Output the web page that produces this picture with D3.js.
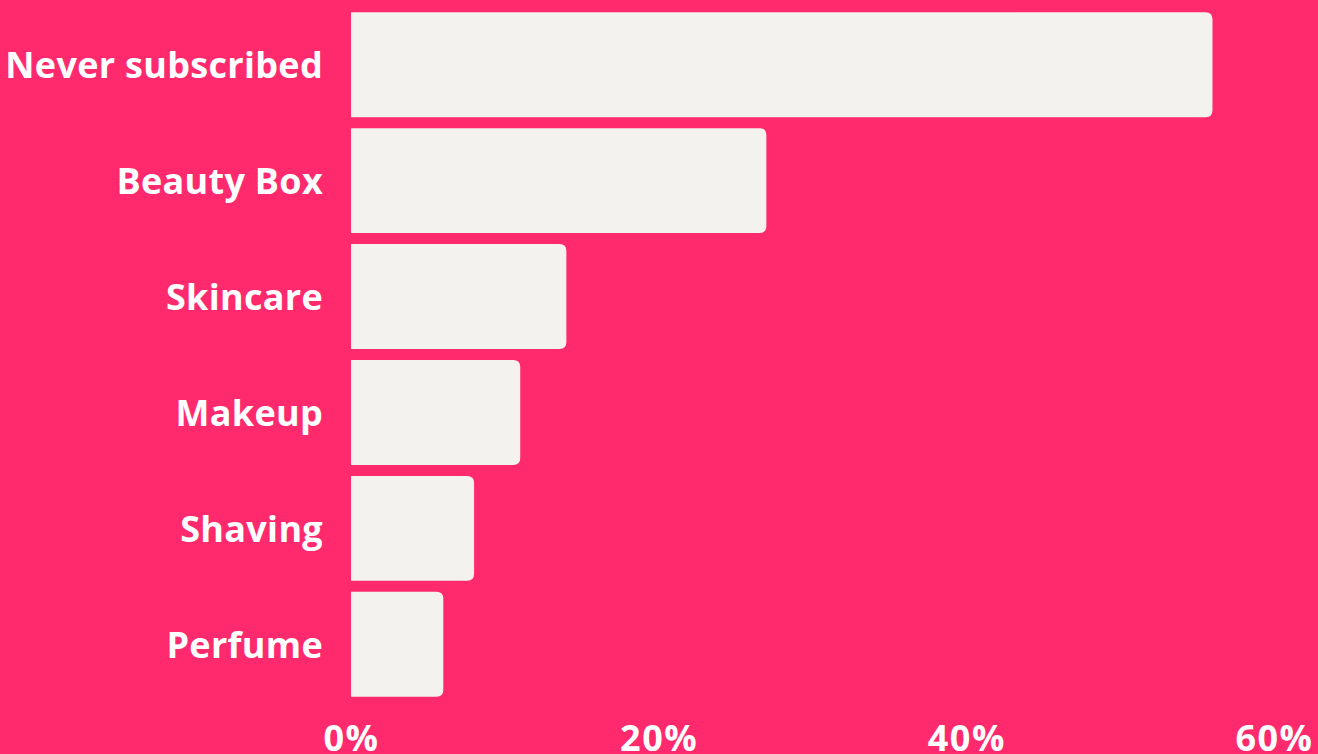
<!DOCTYPE html>
<html><head><meta charset="utf-8">
<script src="https://cdn.jsdelivr.net/npm/d3@7"></script>
<style>html,body{margin:0;padding:0;background:#FF2A6D;overflow:hidden}</style>
</head><body>
<svg id="c" width="1318" height="754"></svg>
<script>
const categories = ["Never subscribed","Beauty Box","Skincare","Makeup","Shaving","Perfume"];
const values = [56, 27, 14, 11, 8, 6];
const tickValues = [0, 20, 40, 60];
const tickLabels = ["0%","20%","40%","60%"];

const W = 1318, H = 754;
const svg = d3.select("#c");
svg.append("rect").attr("width", W).attr("height", H).attr("fill", "#FF2A6D");

const x = d3.scaleLinear().domain([0, 60]).range([351, 1274]);
const y = d3.scaleBand().domain(categories).range([6.5, 702.5]).paddingInner(11/116).paddingOuter(0.05);

const r = 7;
function barPath(x0, x1, y0, h) {
  const rr = Math.min(r, (x1 - x0));
  return `M${x0},${y0}H${x1-rr}Q${x1},${y0} ${x1},${y0+rr}V${y0+h-rr}Q${x1},${y0+h} ${x1-rr},${y0+h}H${x0}Z`;
}

svg.append("g").selectAll("path").data(categories).join("path")
  .attr("d", (d,i) => barPath(x(0), x(values[i]), y(d), y.bandwidth()))
  .attr("fill", "#F3F2EE");

svg.append("g").selectAll("text").data(categories).join("text")
  .attr("x", 323).attr("y", d => y(d) + y.bandwidth()/2)
  .attr("text-anchor", "end").attr("dominant-baseline", "central")
  .attr("fill", "#FFFFFF")
  .style("font-family", "'Open Sans', sans-serif").style("font-weight", 700).style("font-size", "36px")
  .style("letter-spacing", "0.3px")
  .text(d => d);

const axis = d3.axisBottom(x).tickValues(tickValues).tickFormat((d,i) => tickLabels[i]).tickSize(0).tickPadding(0);
const ax = svg.append("g").attr("transform", "translate(0,751)").call(axis);
ax.select(".domain").remove();
ax.selectAll("text").attr("dy", null).attr("y", 0)
  .attr("fill", "#FFFFFF")
  .style("font-family", "'Open Sans', sans-serif").style("font-weight", 700).style("font-size", "36px")
  .style("letter-spacing", "1.5px");
</script>
</body></html>
